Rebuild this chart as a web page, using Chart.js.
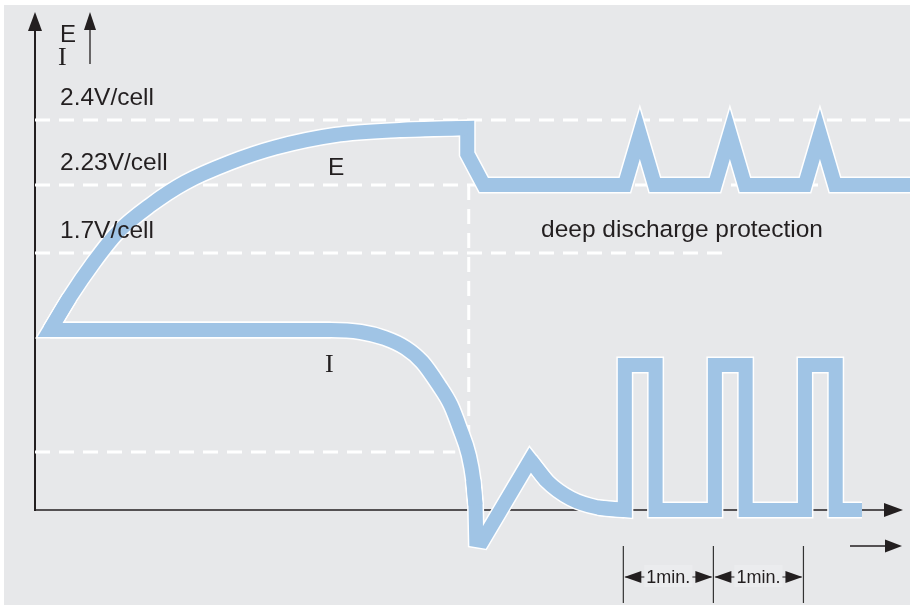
<!DOCTYPE html>
<html>
<head>
<meta charset="utf-8">
<script src="https://cdn.jsdelivr.net/npm/chart.js@4.4.1/dist/chart.umd.min.js"></script>
<style>
  html, body { margin: 0; padding: 0; background: #fff; }
  #wrap { width: 910px; height: 606px; }
</style>
</head>
<body>
<div id="wrap"><canvas id="chart" width="910" height="606"></canvas></div>
<script>
// time in seconds, level in % of the axis height
const eTime  = [10, 23, 39, 55, 77, 100, 130, 160, 200, 243, 288, 288, 299, 393, 403, 413, 453, 463, 473, 513, 523, 533, 583];
const eLevel = [36, 42.5, 49.5, 55.5, 61, 65.5, 69.5, 72.5, 75, 76, 76.4, 71.2, 65, 65, 75.2, 65, 65, 75.2, 65, 65, 75.2, 65, 65];

const iTime  = [10, 197, 217, 233, 247, 258, 269, 277, 283, 289, 292, 293.5, 294, 298, 330, 341, 357, 375, 393, 393, 413.5, 413.5, 453, 453, 473.5, 473.5, 513, 513, 533.5, 533.5, 551];
const iLevel = [36, 36, 35.6, 34.4, 32.4, 29.6, 25, 21, 16.4, 11, 6, 1, -6, -6.2, 10, 5.8, 2.3, 0.5, 0, 29, 29, 0, 0, 29, 29, 0, 0, 29, 29, 0, 0];

// dashed guide lines
const guideLevels = [78, 65, 51.4, 11.6];
const guideEnds   = [583, 583, 463, 280];
const guideLabels = ['2.4V/cell', '2.23V/cell', '1.7V/cell'];
const cutoffTime = 289;

const minuteMarks = [393, 453, 513];
const minuteLabel = '1min.';

const BG = '#e7e8ea';
const BLUE = '#a0c4e5';
const INK = '#231f20';
const SANS = '"Liberation Sans", Arial, sans-serif';
const SERIF = '"Liberation Serif", "Times New Roman", serif';

function pts(times, levels, from, to) {
    const out = [];
    for (let i = from; i <= to; i++) out.push({ x: times[i], y: levels[i] });
    return out;
}

// curved stretches are drawn smooth, corners and steps as straight pieces
// (pieces overlap by one segment so the joins stay closed)
const pieces = [
    { data: pts(eTime, eLevel, 0, 10), smooth: true },
    { data: pts(eTime, eLevel, 9, eTime.length - 1), smooth: false },
    { data: [{ x: eTime[1], y: eLevel[1] }, { x: eTime[0], y: eLevel[0] }, { x: iTime[1], y: iLevel[1] }], smooth: false },
    { data: pts(iTime, iLevel, 0, 11), smooth: true },
    { data: pts(iTime, iLevel, 10, 15), smooth: false },
    { data: pts(iTime, iLevel, 14, 18), smooth: true },
    { data: pts(iTime, iLevel, 17, iTime.length - 1), smooth: false }
];

function curveDataset(piece, color, width, order) {
    return {
        data: piece.data,
        borderColor: color,
        borderWidth: width,
        borderJoinStyle: 'miter',
        borderCapStyle: 'butt',
        cubicInterpolationMode: piece.smooth ? 'monotone' : 'default',
        tension: 0,
        pointRadius: 0,
        clip: false,
        order: order
    };
}

function guideDataset(points) {
    return {
        data: points,
        borderColor: '#ffffff',
        borderWidth: 3,
        borderDash: [15, 9],
        pointRadius: 0,
        order: 3
    };
}

const guideSets = guideLevels.map((lvl, i) => guideDataset([{ x: 0, y: lvl }, { x: guideEnds[i], y: lvl }]));
guideSets.push(guideDataset([{ x: cutoffTime, y: guideLevels[1] }, { x: cutoffTime, y: guideLevels[3] }]));

function arrowHead(ctx, x, y, dx, dy, len, half) {
    // (x, y) is the tip, (dx, dy) the direction it points to
    const bx = x - dx * len, by = y - dy * len;
    ctx.beginPath();
    ctx.moveTo(x, y);
    ctx.lineTo(bx - dy * half, by + dx * half);
    ctx.lineTo(bx + dy * half, by - dx * half);
    ctx.closePath();
    ctx.fill();
}

function line(ctx, x1, y1, x2, y2, w) {
    ctx.lineWidth = w;
    ctx.beginPath();
    ctx.moveTo(x1, y1);
    ctx.lineTo(x2, y2);
    ctx.stroke();
}

const sketchPlugin = {
    id: 'sketch',
    beforeDraw(chart) {
        const ctx = chart.ctx;
        ctx.save();
        ctx.fillStyle = '#ffffff';
        ctx.fillRect(0, 0, chart.width, chart.height);
        ctx.fillStyle = BG;
        ctx.fillRect(4, 5, chart.width - 4, chart.height - 6);
        ctx.restore();
    },
    beforeDatasetsDraw(chart) {
        const ctx = chart.ctx;
        const x0 = chart.scales.x.getPixelForValue(0);
        const y0 = chart.scales.y.getPixelForValue(0);
        ctx.save();
        ctx.strokeStyle = INK;
        ctx.fillStyle = INK;
        line(ctx, x0, y0 + 1, x0, 28, 2);
        arrowHead(ctx, x0, 12, 0, -1, 19, 7);
        line(ctx, x0, y0, 888, y0, 1.5);
        arrowHead(ctx, 903, y0, 1, 0, 19, 7);
        ctx.restore();
    },
    afterDatasetsDraw(chart) {
        const ctx = chart.ctx;
        const xs = chart.scales.x, ys = chart.scales.y;
        const x0 = xs.getPixelForValue(0);
        const y0 = ys.getPixelForValue(0);
        ctx.save();
        ctx.fillStyle = INK;
        ctx.strokeStyle = INK;
        ctx.textBaseline = 'alphabetic';

        // axis names
        ctx.font = '24px ' + SANS;
        ctx.fillText('E', x0 + 25, 42);
        ctx.font = '26px ' + SERIF;
        ctx.fillText('I', x0 + 23, 65);
        line(ctx, 90, 64, 90, 26, 1.3);
        arrowHead(ctx, 90, 12, 0, -1, 18, 6);

        // guide labels
        ctx.font = '24.5px ' + SANS;
        guideLabels.forEach((txt, i) => {
            ctx.fillText(txt, x0 + 25, ys.getPixelForValue(guideLevels[i]) - 15);
        });
        ctx.fillText('deep discharge protection', 541, ys.getPixelForValue(guideLevels[2]) - 16);

        // curve names
        ctx.fillText('E', 328, 175);
        ctx.font = '26px ' + SERIF;
        ctx.fillText('I', 325, 372);

        // one minute markers
        const top = y0 + 36, bottom = y0 + 93, mid = y0 + 67;
        const px = minuteMarks.map(t => xs.getPixelForValue(t) - 1.5);
        ctx.strokeStyle = '#333333';
        px.forEach(x => line(ctx, x, top, x, bottom, 1.2));
        ctx.strokeStyle = INK;
        ctx.font = '18px ' + SANS;
        ctx.textAlign = 'center';
        for (let i = 0; i < px.length - 1; i++) {
            const a = px[i], b = px[i + 1], c = (a + b) / 2;
            line(ctx, a + 2, mid, b - 2, mid, 1.2);
            const w = ctx.measureText(minuteLabel).width;
            ctx.fillStyle = '#ebecee';
            ctx.fillRect(c - w / 2 - 2, mid - 12, w + 4, 22);
            ctx.fillStyle = INK;
            ctx.fillText(minuteLabel, c, mid + 6);
            arrowHead(ctx, a + 1, mid, -1, 0, 17, 6);
            arrowHead(ctx, b - 1, mid, 1, 0, 17, 6);
        }

        // time arrow
        line(ctx, 850, top, 888, top, 1.3);
        arrowHead(ctx, 902, top, 1, 0, 17, 6.5);
        ctx.restore();
    }
};

new Chart(document.getElementById('chart'), {
    type: 'line',
    data: {
        datasets: [
            ...pieces.map(p => curveDataset(p, BLUE, 14, 0)),
            ...pieces.map(p => curveDataset(p, '#ffffff', 17, 1)),
            ...guideSets
        ]
    },
    options: {
        responsive: false,
        animation: false,
        devicePixelRatio: 1,
        events: [],
        layout: { padding: { left: 35, right: 0, top: 10, bottom: 46 } },
        scales: {
            x: { type: 'linear', min: 0, max: 583, display: false },
            y: { type: 'linear', min: -10, max: 100, display: false }
        },
        plugins: {
            legend: { display: false },
            tooltip: { enabled: false }
        }
    },
    plugins: [sketchPlugin]
});
</script>
</body>
</html>
